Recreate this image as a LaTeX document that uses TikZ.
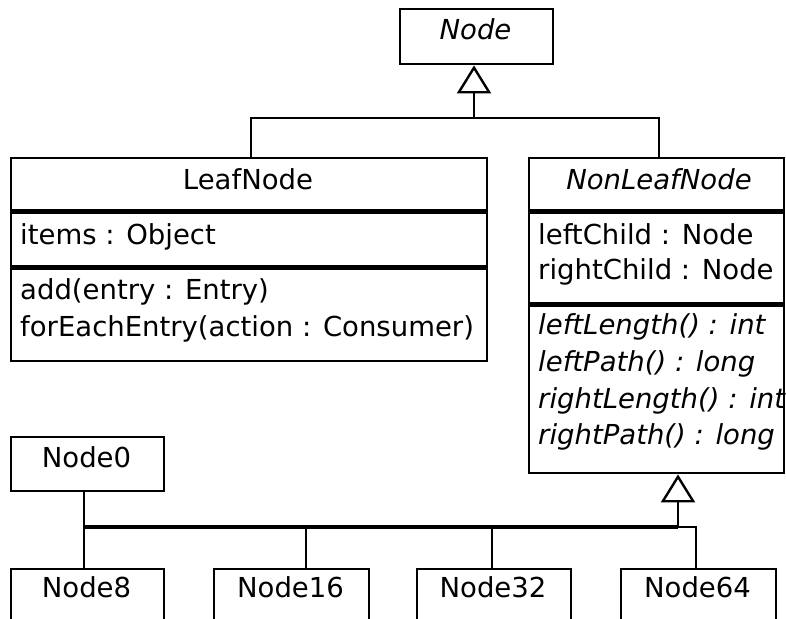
\documentclass[tikz,border=0pt]{standalone}
\usepackage{fontspec}
\setmainfont{DejaVu Sans}
\usetikzlibrary{arrows.meta}
\newcommand\umlfs{\fontsize{27.5}{36}\selectfont}
\begin{document}
\begin{tikzpicture}[x=1pt,y=-1pt,
  box/.style={draw, line width=2.4pt, rectangle, inner sep=0pt, anchor=north west},
  txt/.style={anchor=base west, inner sep=0pt, font=\umlfs},
  ctxt/.style={anchor=base, inner sep=0pt, font=\umlfs},
  sepline/.style={line width=5pt},
  conn/.style={line width=2.4pt},
  bus/.style={line width=3.2pt},
  inh/.style={line width=2.8pt, -{Triangle[open,length=28pt,width=34pt,line width=2.4pt]}}]
\useasboundingbox (0,0) rectangle (786,618);
\clip (0,0) rectangle (786,618);

% Node
\node[box, minimum width=153pt, minimum height=55pt] (node) at (399,8) {};
\node[ctxt, font=\umlfs\itshape] (nodet) at (475.5,40) {Node};

% LeafNode
\node[box, minimum width=476pt, minimum height=54pt] (leaft) at (10,157) {};
\node[box, minimum width=476pt, minimum height=56pt] (leafa) at (10,211) {};
\node[box, minimum width=476pt, minimum height=93pt] (leafo) at (10,267) {};
\draw[sepline] (leafa.north west) -- (leafa.north east);
\draw[sepline] (leafo.north west) -- (leafo.north east);
\node[ctxt] (leaftt) at (248,189) {LeafNode};
\node[txt] (leafa1) at (20,244) {items : Object};
\node[txt] (leafo1) at (20,299) {add(entry : Entry)};
\node[txt] (leafo2) at (20,336) {forEachEntry(action : Consumer)};

% NonLeafNode
\node[box, minimum width=255pt, minimum height=54pt] (nlt) at (528,157) {};
\node[box, minimum width=255pt, minimum height=93pt] (nla) at (528,211) {};
\node[box, minimum width=255pt, minimum height=168pt] (nlo) at (528,304) {};
\draw[sepline] (nla.north west) -- (nla.north east);
\draw[sepline] (nlo.north west) -- (nlo.north east);
\node[ctxt, font=\umlfs\itshape] (nltt) at (659,189) {NonLeafNode};
\node[txt] (nla1) at (538,244) {leftChild : Node};
\node[txt] (nla2) at (538,279) {rightChild : Node};
\node[txt, font=\umlfs\itshape] (nlo1) at (538,334) {leftLength() : int};
\node[txt, font=\umlfs\itshape] (nlo2) at (538,371) {leftPath() : long};
\node[txt, font=\umlfs\itshape] (nlo3) at (538,408) {rightLength() : int};
\node[txt, font=\umlfs\itshape] (nlo4) at (538,444) {rightPath() : long};

% top inheritance
\coordinate (j1) at (474,118);
\coordinate (la) at (251,157);
\coordinate (ra) at (659,157);
\draw[conn] (la) |- (j1) -| (ra);
\draw[inh] (j1) -- (j1 |- node.south);

% bottom row
\node[box, minimum width=153pt, minimum height=54pt] (n0) at (10,436) {};
\node[ctxt] (n0t) at (86.5,467) {Node0};
\node[box, minimum width=153pt, minimum height=80pt] (n8) at (10,568) {};
\node[ctxt] (n8t) at (86.5,597) {Node8};
\node[box, minimum width=155pt, minimum height=80pt] (n16) at (213,568) {};
\node[ctxt] (n16t) at (290.5,597) {Node16};
\node[box, minimum width=154pt, minimum height=80pt] (n32) at (416,568) {};
\node[ctxt] (n32t) at (493,597) {Node32};
\node[box, minimum width=155pt, minimum height=80pt] (n64) at (620,568) {};
\node[ctxt] (n64t) at (697.5,597) {Node64};

\coordinate (j2) at (678,527);
\coordinate (t0) at (84,490);
\coordinate (t16) at (306,527);
\coordinate (t32) at (492,527);
\coordinate (t64) at (696,568);
\draw[conn] (j2) -| (t64);
\draw[inh] (j2) -- (j2 |- nlo.south);
\draw[conn] (t0) -- (t0 |- n8.north);
\draw[bus] (t0 |- j2) -- (j2);
\draw[conn] (t16) -- (t16 |- n16.north);
\draw[conn] (t32) -- (t32 |- n32.north);
\end{tikzpicture}
\end{document}
